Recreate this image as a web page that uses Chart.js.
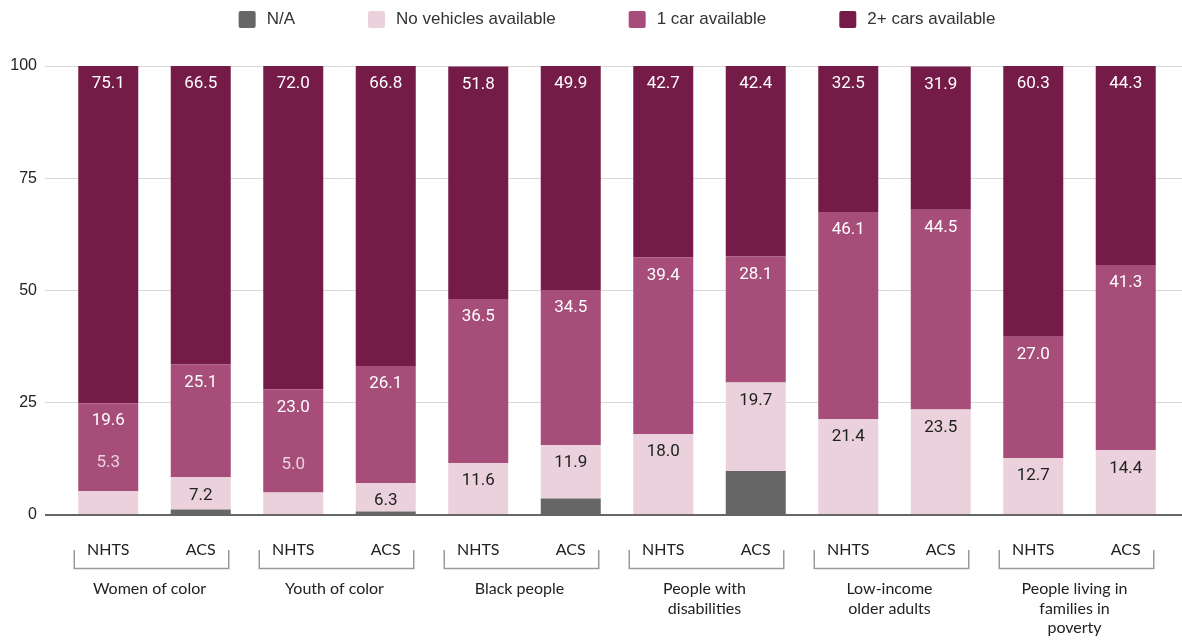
<!DOCTYPE html>
<html>
<head>
<meta charset="utf-8">
<script src="https://cdn.jsdelivr.net/npm/chart.js@4"></script>
<style>
  html, body { margin: 0; padding: 0; background: #fff; }
  #wrap { width: 1182px; height: 641px; }
</style>
</head>
<body>
<div id="wrap"><canvas id="chart-vehicles" width="1182" height="641"></canvas></div>
<script>
/* ─── Data ────────────────────────────────────────────────── */
const SOURCES = ['NHTS', 'ACS', 'NHTS', 'ACS', 'NHTS', 'ACS', 'NHTS', 'ACS', 'NHTS', 'ACS', 'NHTS', 'ACS'];
const GROUPS = [
  ['Women of color'],
  ['Youth of color'],
  ['Black people'],
  ['People with', 'disabilities'],
  ['Low-income', 'older adults'],
  ['People living in', 'families in', 'poverty'],
];
const NA_SHARE      = [0, 1.2, 0, 0.8, 0, 3.7, 0, 9.8, 0, 0, 0, 0];
const NO_VEHICLE    = [5.3, 7.2, 5.0, 6.3, 11.6, 11.9, 18.0, 19.7, 21.4, 23.5, 12.7, 14.4];
const ONE_CAR       = [19.6, 25.1, 23.0, 26.1, 36.5, 34.5, 39.4, 28.1, 46.1, 44.5, 27.0, 41.3];
const TWO_PLUS_CARS = [75.1, 66.5, 72.0, 66.8, 51.8, 49.9, 42.7, 42.4, 32.5, 31.9, 60.3, 44.3];
const Y_TICKS = [0, 25, 50, 75, 100];

/* ─── Style ───────────────────────────────────────────────── */
const COLORS = {
  na:       '#666666',
  none:     '#ead1dc',
  one:      '#a64d79',
  two:      '#741b47',
  grid:     '#d9d9d9',
  zero:     '#666666',
  text:     '#222222',
  bracket:  '#9a9a9a',
};
const BAR_WIDTH = 60;

/* value labels drawn near the top of each segment */
const valueLabels = {
  id: 'valueLabels',
  afterDatasetsDraw(chart) {
    const { ctx } = chart;
    ctx.save();
    ctx.font = '17px Roboto, sans-serif';
    ctx.textAlign = 'center';
    ctx.textBaseline = 'middle';
    chart.data.datasets.forEach((ds, di) => {
      if (!ds.valueColor) return;
      chart.getDatasetMeta(di).data.forEach((bar, i) => {
        const v = ds.data[i];
        if (!v) return;
        const h = bar.base - bar.y;
        if (h < 26) {
          // too short to hold its own label: put it just above
          ctx.fillStyle = '#ecd3df';
          ctx.fillText(v.toFixed(1), bar.x, bar.y - 28);
        } else {
          ctx.fillStyle = ds.valueColor;
          ctx.fillText(v.toFixed(1), bar.x, bar.y + 18);
        }
      });
    });
    ctx.restore();
  },
};

/* brackets + group names under the NHTS / ACS pairs */
const groupBrackets = {
  id: 'groupBrackets',
  afterDraw(chart) {
    const { ctx } = chart;
    const xs = chart.scales.x;
    const half = BAR_WIDTH / 2;
    ctx.save();
    ctx.strokeStyle = COLORS.bracket;
    ctx.lineWidth = 1.5;
    ctx.font = '16px Lato';
    ctx.fillStyle = COLORS.text;
    ctx.textAlign = 'center';
    ctx.textBaseline = 'middle';
    GROUPS.forEach((lines, g) => {
      const x1 = xs.getPixelForValue(g * 2) - half - 4;
      const x2 = xs.getPixelForValue(g * 2 + 1) + half - 2;
      ctx.beginPath();
      ctx.moveTo(x1, 550);
      ctx.lineTo(x1, 568.5);
      ctx.lineTo(x2, 568.5);
      ctx.lineTo(x2, 550);
      ctx.stroke();
      const mid = (x1 + x2) / 2 - 2;
      lines.forEach((t, li) => ctx.fillText(t, mid, 589 + li * 19.5));
    });
    ctx.restore();
  },
};

/* legend row across the top, centred over the plot */
const topLegend = {
  id: 'topLegend',
  afterDraw(chart) {
    const { ctx, chartArea } = chart;
    const box = 17, gap = 11, itemGap = 73, cy = 19.5;
    ctx.save();
    ctx.font = '17px "Liberation Sans", Arial, sans-serif';
    ctx.textBaseline = 'middle';
    const items = chart.data.datasets.map(ds => ({
      label: ds.label, color: ds.backgroundColor, w: ctx.measureText(ds.label).width,
    }));
    const total = items.reduce((s, it) => s + box + gap + it.w, 0) + itemGap * (items.length - 1);
    let x = (chartArea.left + chartArea.right) / 2 - total / 2;
    items.forEach(it => {
      ctx.fillStyle = it.color;
      ctx.beginPath();
      ctx.roundRect(x, cy - box / 2, box, box, 2);
      ctx.fill();
      ctx.fillStyle = '#333333';
      ctx.fillText(it.label, x + box + gap, cy);
      x += box + gap + it.w + itemGap;
    });
    ctx.restore();
  },
};

const gridColor = c => (c.tick && c.tick.value === 0 ? COLORS.zero : COLORS.grid);
const gridWidth = c => (c.tick && c.tick.value === 0 ? 2 : 1);

function dataset(label, data, color, valueColor) {
  return {
    label, data,
    backgroundColor: color,
    borderWidth: 0,
    barPercentage: BAR_WIDTH / 92.5,
    categoryPercentage: 1,
    valueColor,
  };
}

new Chart(document.getElementById('chart-vehicles'), {
  type: 'bar',
  data: {
    labels: SOURCES,
    datasets: [
      dataset('N/A', NA_SHARE, COLORS.na, null),
      dataset('No vehicles available', NO_VEHICLE, COLORS.none, COLORS.text),
      dataset('1 car available', ONE_CAR, COLORS.one, '#ffffff'),
      dataset('2+ cars available', TWO_PLUS_CARS, COLORS.two, '#ffffff'),
    ],
  },
  options: {
    responsive: false,
    animation: false,
    devicePixelRatio: 1,
    layout: { padding: { top: 66, left: 0, right: 0, bottom: 0 } },
    plugins: {
      legend: { display: false },
      tooltip: { enabled: false },
    },
    scales: {
      x: {
        stacked: true,
        grid: { display: false },
        border: { display: false },
        ticks: {
          color: COLORS.text,
          font: { family: 'Lato', size: 16 },
          padding: 17,
          maxRotation: 0,
        },
        afterFit: s => { s.height = 126; },
      },
      y: {
        stacked: true,
        min: 0,
        max: 100,
        afterBuildTicks: s => { s.ticks = Y_TICKS.map(v => ({ value: v })); },
        border: { display: false },
        grid: { color: gridColor, lineWidth: gridWidth, tickLength: 17 },
        ticks: {
          color: COLORS.text,
          font: { family: "'Liberation Sans', Arial, sans-serif", size: 16 },
          padding: 8,
        },
        afterFit: s => { s.width = 62; },
      },
      yRight: {
        position: 'right',
        min: 0,
        max: 100,
        afterBuildTicks: s => { s.ticks = Y_TICKS.map(v => ({ value: v })); },
        border: { display: false },
        grid: { color: gridColor, lineWidth: gridWidth, tickLength: 10, drawOnChartArea: false },
        ticks: { display: false },
        afterFit: s => { s.width = 10; },
      },
    },
  },
  plugins: [valueLabels, groupBrackets, topLegend],
});
</script>
</body>
</html>
